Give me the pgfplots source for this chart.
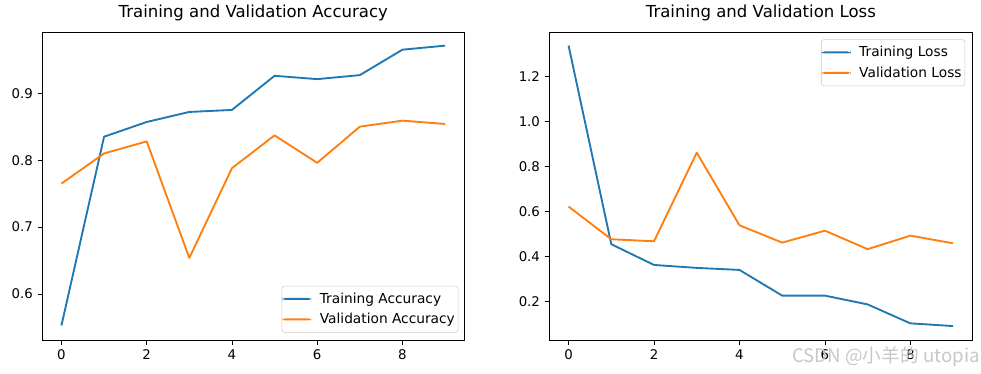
\documentclass[border=0pt]{standalone}
\usepackage{fontspec}
\setmainfont{DejaVu Sans}
\newfontfamily\cjk{Noto Sans CJK SC}
\usepackage{pgfplots}
\pgfplotsset{compat=1.18}
\definecolor{tabblue}{HTML}{1F77B4}
\definecolor{taborange}{HTML}{FF7F0E}
\pgfplotsset{
  mpl/.style={
    scale only axis,
    axis line style={line width=0.6pt},
    tick style={line width=0.6pt, black},
    tick align=outside,
    major tick length=3.5pt,
    xtick pos=bottom, ytick pos=left,
    tick label style={font=\fontsize{10}{12}\selectfont},
    /pgf/number format/assume math mode=true,
    title style={font=\fontsize{12.4}{14}\selectfont, yshift=-1pt},
    xtick={0,2,4,6,8},
    xmin=-0.45, xmax=9.45,
    every axis plot/.append style={line width=1.4pt, mark=none, line join=round},
    legend cell align=left,
    legend image code/.code={\fill[#1, draw=none] (0pt,-0.75pt) rectangle (21.5pt,0.75pt);},
    legend style={draw=black!20, rounded corners=2pt, font=\fontsize{10.3}{12}\selectfont,
      inner xsep=0.5pt, inner ysep=3pt, row sep=2pt,
      nodes={inner sep=2pt},
      /tikz/every odd column/.append style={column sep=4.5pt}},
  }
}
\begin{document}
\begin{tikzpicture}
\path[use as bounding box] (0,0) rectangle (735.75pt,-280.5pt);
\begin{axis}[mpl, at={(31.7pt,-24.2pt)}, anchor=north west,
  width=316.5pt, height=231pt,
  ymin=0.531, ymax=0.991, ytick={0.6,0.7,0.8,0.9},
  yticklabel style={/pgf/number format/.cd, fixed, fixed zerofill, precision=1},
  title={Training and Validation Accuracy},
  legend style={at={(0.986,0.025)}, anchor=south east}]
\addplot[color=tabblue] coordinates {(0,0.553) (1,0.835) (2,0.857) (3,0.872) (4,0.875) (5,0.926) (6,0.921) (7,0.927) (8,0.965) (9,0.971)};
\addlegendentry{Training Accuracy\hspace{3pt}}
\addplot[color=taborange] coordinates {(0,0.765) (1,0.810) (2,0.828) (3,0.654) (4,0.788) (5,0.837) (6,0.796) (7,0.850) (8,0.859) (9,0.854)};
\addlegendentry{Validation Accuracy\hspace{3pt}}
\end{axis}
\begin{axis}[mpl, at={(412pt,-24.2pt)}, anchor=north west,
  width=317.25pt, height=231pt,
  ymin=0.029, ymax=1.395, ytick={0.2,0.4,0.6,0.8,1.0,1.2},
  yticklabel style={/pgf/number format/.cd, fixed, fixed zerofill, precision=1},
  title={Training and Validation Loss},
  legend style={at={(0.983,0.977)}, anchor=north east}]
\addplot[color=tabblue] coordinates {(0,1.336) (1,0.455) (2,0.363) (3,0.350) (4,0.341) (5,0.227) (6,0.227) (7,0.188) (8,0.104) (9,0.092)};
\addlegendentry{Training Loss\hspace{3pt}}
\addplot[color=taborange] coordinates {(0,0.622) (1,0.477) (2,0.468) (3,0.861) (4,0.539) (5,0.462) (6,0.515) (7,0.433) (8,0.493) (9,0.459)};
\addlegendentry{Validation Loss\hspace{3pt}}
\end{axis}
\node[anchor=east, inner sep=0pt, text=black!22, font=\cjk\fontsize{14}{16}\selectfont] at (735pt,-267.5pt) {CSDN @小羊的 utopia};
\end{tikzpicture}
\end{document}
